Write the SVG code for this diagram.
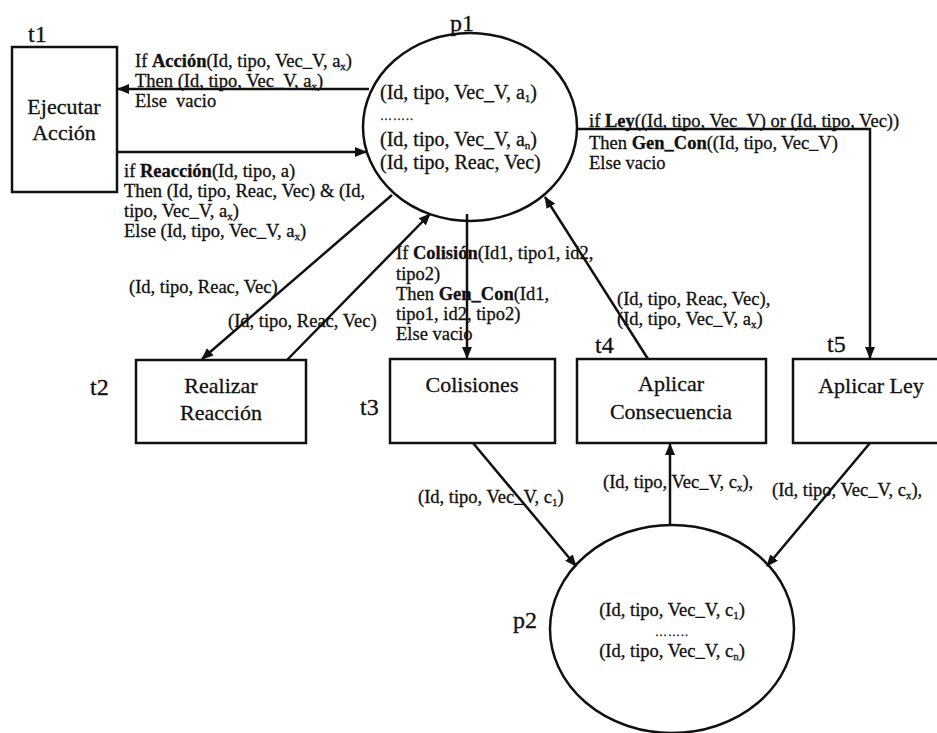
<svg xmlns="http://www.w3.org/2000/svg" width="937" height="733" viewBox="0 0 937 733">
  <style>
    text { font-family: "Liberation Serif", "Times New Roman", serif; fill: #111; stroke: #111; stroke-width: 0.3px; }
    .lbl { font-size: 18.5px; }
    .tok { font-size: 20px; }
    .tok2 { font-size: 18.5px; }
    .dots { font-size: 12px; letter-spacing: 1px; }
    .name { font-size: 22px; text-anchor: middle; }
    .id { font-size: 24px; }
    .b { font-weight: bold; }
    .sub { font-size: 11px; }
    .box { fill: #fff; stroke: #111; stroke-width: 2.5; }
    .place { fill: #fff; stroke: #111; stroke-width: 2.5; }
    .edge { fill: none; stroke: #111; stroke-width: 2.5; }
  </style>
  <defs>
    <marker id="arrow" viewBox="0 0 12 10" refX="11" refY="5" markerWidth="12" markerHeight="10" markerUnits="userSpaceOnUse" orient="auto">
      <path d="M0,0 L12,5 L0,10 Z" fill="#111"/>
    </marker>
  </defs>
  <rect width="937" height="733" fill="#fff"/>

  <!-- places -->
  <g id="p1">
    <ellipse class="place" cx="470" cy="127" rx="107" ry="94"/>
    <text class="id" x="450" y="31">p1</text>
    <text class="tok" x="380" y="99">(Id, tipo, Vec_V, a<tspan class="sub" dy="3">1</tspan><tspan dy="-3">)</tspan></text>
    <text class="dots" x="380" y="120">……..</text>
    <text class="tok" x="380" y="146">(Id, tipo, Vec_V, a<tspan class="sub" dy="3">n</tspan><tspan dy="-3">)</tspan></text>
    <text class="tok" x="380" y="169">(Id, tipo, Reac, Vec)</text>
  </g>
  <g id="p2">
    <ellipse class="place" cx="672" cy="629" rx="122" ry="104"/>
    <text class="id" x="513" y="628">p2</text>
    <text class="tok2" x="672" y="616" text-anchor="middle">(Id, tipo, Vec_V, c<tspan class="sub" dy="3">1</tspan><tspan dy="-3">)</tspan></text>
    <text class="dots" x="672" y="636" text-anchor="middle">……..</text>
    <text class="tok2" x="672" y="657" text-anchor="middle">(Id, tipo, Vec_V, c<tspan class="sub" dy="3">n</tspan><tspan dy="-3">)</tspan></text>
  </g>

  <!-- transitions -->
  <g id="t1">
    <rect class="box" x="12" y="47" width="105" height="145"/>
    <text class="id" x="28" y="42">t1</text>
    <text class="name" x="64" y="114">Ejecutar</text>
    <text class="name" x="64" y="140">Acción</text>
  </g>
  <g id="t2">
    <rect class="box" x="136" y="360" width="170" height="83"/>
    <text class="id" x="90" y="395">t2</text>
    <text class="name" x="221" y="393">Realizar</text>
    <text class="name" x="221" y="420">Reacción</text>
  </g>
  <g id="t3">
    <rect class="box" x="390" y="359" width="165" height="84"/>
    <text class="id" x="360" y="415">t3</text>
    <text class="name" x="472" y="392">Colisiones</text>
  </g>
  <g id="t4">
    <rect class="box" x="577" y="359" width="189" height="84"/>
    <text class="id" x="595" y="353">t4</text>
    <text class="name" x="671" y="391">Aplicar</text>
    <text class="name" x="671" y="419">Consecuencia</text>
  </g>
  <g id="t5">
    <rect class="box" x="793" y="359" width="158" height="84"/>
    <text class="id" x="827" y="352">t5</text>
    <text class="name" x="871" y="393">Aplicar Ley</text>
  </g>

  <!-- arcs -->
  <g id="connectors">
    <line class="edge" x1="369" y1="89" x2="118" y2="89" marker-end="url(#arrow)"/>
    <line class="edge" x1="117" y1="152" x2="366" y2="152" marker-end="url(#arrow)"/>
    <line class="edge" x1="392" y1="195" x2="202" y2="359" marker-end="url(#arrow)"/>
    <line class="edge" x1="287" y1="360" x2="430" y2="214" marker-end="url(#arrow)"/>
    <line class="edge" x1="467" y1="214" x2="467" y2="358" marker-end="url(#arrow)"/>
    <line class="edge" x1="648" y1="359" x2="545" y2="197" marker-end="url(#arrow)"/>
    <polyline class="edge" points="577,129 870,129 870,358" marker-end="url(#arrow)"/>
    <line class="edge" x1="473" y1="443" x2="576" y2="566" marker-end="url(#arrow)"/>
    <line class="edge" x1="670" y1="525" x2="670" y2="444" marker-end="url(#arrow)"/>
    <line class="edge" x1="870" y1="443" x2="767" y2="566" marker-end="url(#arrow)"/>
  </g>

  <!-- arc inscriptions -->
  <g id="arc-labels">
    <text class="lbl" x="135" y="67">If <tspan class="b">Acción</tspan>(Id, tipo, Vec_V, a<tspan class="sub" dy="3">x</tspan><tspan dy="-3">)</tspan></text>
    <text class="lbl" x="135" y="87">Then (Id, tipo, Vec_V, a<tspan class="sub" dy="3">x</tspan><tspan dy="-3">)</tspan></text>
    <text class="lbl" x="135" y="107" xml:space="preserve">Else  vacio</text>

    <text class="lbl" x="124" y="177">if <tspan class="b">Reacción</tspan>(Id, tipo, a)</text>
    <text class="lbl" x="124" y="197">Then (Id, tipo, Reac, Vec) &amp; (Id,</text>
    <text class="lbl" x="124" y="217">tipo, Vec_V, a<tspan class="sub" dy="3">x</tspan><tspan dy="-3">)</tspan></text>
    <text class="lbl" x="124" y="237">Else (Id, tipo, Vec_V, a<tspan class="sub" dy="3">x</tspan><tspan dy="-3">)</tspan></text>

    <text class="lbl" x="129" y="293">(Id, tipo, Reac, Vec)</text>
    <text class="lbl" x="228" y="327">(Id, tipo, Reac, Vec)</text>

    <text class="lbl" x="396" y="259">If <tspan class="b">Colisión</tspan>(Id1, tipo1, id2,</text>
    <text class="lbl" x="396" y="280">tipo2)</text>
    <text class="lbl" x="396" y="300">Then <tspan class="b">Gen_Con</tspan>(Id1,</text>
    <text class="lbl" x="396" y="320">tipo1, id2, tipo2)</text>
    <text class="lbl" x="396" y="340">Else vacio</text>

    <text class="lbl" x="617" y="305">(Id, tipo, Reac, Vec),</text>
    <text class="lbl" x="617" y="325">(Id, tipo, Vec_V, a<tspan class="sub" dy="3">x</tspan><tspan dy="-3">)</tspan></text>

    <text class="lbl" x="589" y="127">if <tspan class="b">Ley</tspan>((Id, tipo, Vec_V) or (Id, tipo, Vec))</text>
    <text class="lbl" x="589" y="149">Then <tspan class="b">Gen_Con</tspan>((Id, tipo, Vec_V)</text>
    <text class="lbl" x="589" y="169">Else vacio</text>

    <text class="lbl" x="418" y="503">(Id, tipo, Vec_V, c<tspan class="sub" dy="3">1</tspan><tspan dy="-3">)</tspan></text>
    <text class="lbl" x="603" y="488">(Id, tipo, Vec_V, c<tspan class="sub" dy="3">x</tspan><tspan dy="-3">),</tspan></text>
    <text class="lbl" x="772" y="496">(Id, tipo, Vec_V, c<tspan class="sub" dy="3">x</tspan><tspan dy="-3">),</tspan></text>
  </g>
</svg>
